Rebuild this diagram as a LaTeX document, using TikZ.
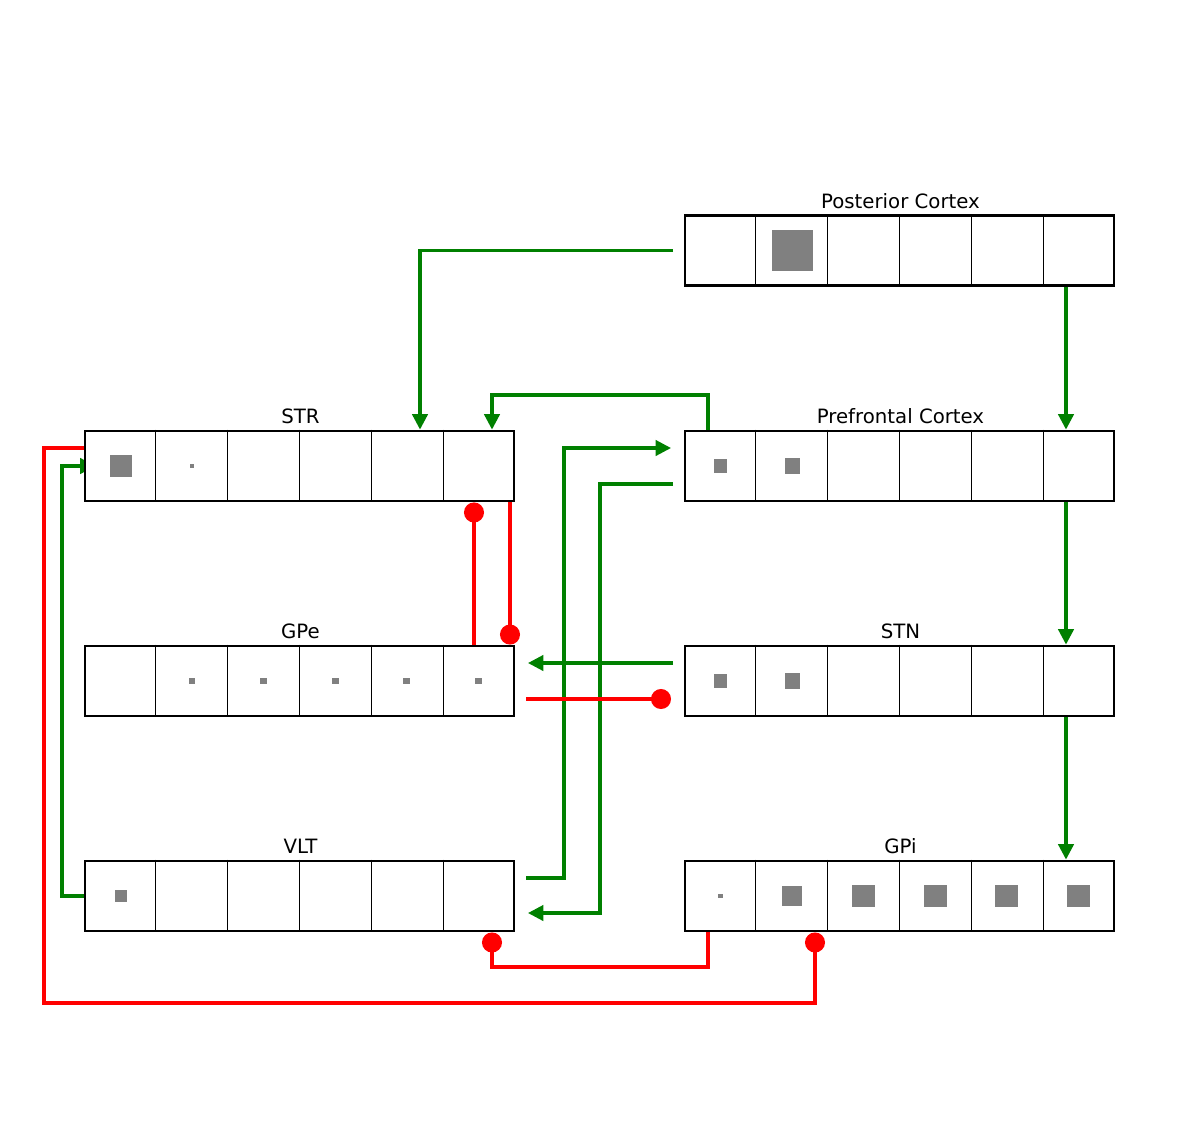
\documentclass[tikz,border=0pt]{standalone}
\usepackage{fontspec}
\setmainfont{DejaVu Sans}
\usetikzlibrary{arrows.meta,calc,backgrounds}
\definecolor{gline}{RGB}{0,128,0}
\definecolor{rline}{RGB}{255,0,0}
\definecolor{sq}{RGB}{128,128,128}
\tikzset{
  x=0.75pt,y=-0.75pt,
  layer/.style={draw=black,line width=2.2pt,fill=white,minimum width=321.75pt,minimum height=52.5pt,inner sep=0pt},
  lbl/.style={anchor=base,font=\fontsize{14.8pt}{16pt}\selectfont,inner sep=0pt},
  unit/.style={fill=sq,inner sep=0pt,minimum size=#1},
  excite/.style={draw=gline,line width=2.3pt,-{Triangle[length=11.5pt,width=11.5pt]}},
  inhib/.style={draw=rline,line width=2.3pt,-{Circle[length=15pt]}},
  divider/.style={draw=black,line width=0.6pt}
}
\newcommand{\cells}[1]{%
  \foreach \k in {1,...,5}{\draw[divider] ($(#1.north west)!\k/6!(#1.north east)$) -- ($(#1.south west)!\k/6!(#1.south east)$);}}
\begin{document}
\begin{tikzpicture}
\useasboundingbox (0,0) rectangle (1199,1147);
% layers
\node[layer] (post) at (899.5,250.5) {};
\node[layer] (pfc) at (899.5,466) {};
\node[layer] (stn) at (899.5,681) {};
\node[layer] (gpi) at (899.5,896) {};
\node[layer] (str) at (299.5,466) {};
\node[layer] (gpe) at (299.5,681) {};
\node[layer] (vlt) at (299.5,896) {};
\cells{post}\cells{pfc}\cells{stn}\cells{gpi}\cells{str}\cells{gpe}\cells{vlt}
% labels
\node[lbl] (postl) at (900.5,208) {Posterior Cortex};
\node[lbl] (pfcl) at (900.5,423) {Prefrontal Cortex};
\node[lbl] (stnl) at (900.5,638) {STN};
\node[lbl] (gpil) at (900.5,853) {GPi};
\node[lbl] (strl) at (300.5,423) {STR};
\node[lbl] (gpel) at (300.5,638) {GPe};
\node[lbl] (vltl) at (300.5,853) {VLT};
% activity units
\node[unit=30.75pt] (post2) at (792.25,250.5) {};
\node[unit=16.5pt] (str1) at (120.75,466) {};
\node[unit=3pt] (str2) at (192.25,466) {};
\node[unit=10pt] (pfc1) at (720.75,466) {};
\node[unit=11.5pt] (pfc2) at (792.25,466) {};
\node[unit=4.5pt] (gpe2) at (192.25,681) {};
\node[unit=5.2pt] (gpe3) at (263.75,681) {};
\node[unit=5.2pt] (gpe4) at (335.25,681) {};
\node[unit=5.2pt] (gpe5) at (406.75,681) {};
\node[unit=5.2pt] (gpe6) at (478.25,681) {};
\node[unit=10pt] (stn1) at (720.75,681) {};
\node[unit=11.5pt] (stn2) at (792.25,681) {};
\node[unit=9pt] (vlt1) at (120.75,896) {};
\node[unit=3.5pt] (gpi1) at (720.75,896) {};
\node[unit=15pt] (gpi2) at (792.25,896) {};
\node[unit=17pt] (gpi3) at (863.75,896) {};
\node[unit=17pt] (gpi4) at (935.25,896) {};
\node[unit=17pt] (gpi5) at (1006.75,896) {};
\node[unit=17pt] (gpi6) at (1078.25,896) {};
% free ends
\coordinate (pfcin) at (671,448);
\coordinate (pfcout) at (673,484);
\coordinate (vltout) at (526,878);
\coordinate (vltin) at (528,913);
\coordinate (stnout) at (673,663);
\coordinate (gpein) at (528,663);
\coordinate (postout) at (673,250.5);
\coordinate (gpeout) at (526,699);
\coordinate (stnin) at (671,699);
% excitatory connections
\draw[excite] (postout) -| (str.north -| 420,0);
\draw[excite] (post.south -| 1066,0) -- (pfc.north -| 1066,0);
\draw[excite] (pfc.north -| 708,0) |- (492,395) -- (str.north -| 492,0);
\draw[excite] (vltout) -| (564,448) -- (pfcin);
\draw[excite] (pfcout) -| (600,913) -- (vltin);
\draw[excite] (pfc.south -| 1066,0) -- (stn.north -| 1066,0);
\draw[excite] (stnout) -- (gpein);
\draw[excite] (stn.south -| 1066,0) -- (gpi.north -| 1066,0);
\begin{scope}[on background layer]
\draw[excite,shorten >=-9pt] (vlt.west) -| (62,466) -- (str.west);
\end{scope}
% inhibitory connections
\draw[inhib] (str.west |- 0,448) -| (44,1003) -| (gpi.south -| 815,0);
\draw[inhib] (gpi.south -| 708,0) |- (492,967) -- (vlt.south -| 492,0);
\draw[inhib] (gpe.north -| 474,0) -- (str.south -| 474,0);
\draw[inhib] (str.south -| 510,0) -- (gpe.north -| 510,0);
\draw[inhib] (gpeout) -- (stnin);
\end{tikzpicture}
\end{document}
